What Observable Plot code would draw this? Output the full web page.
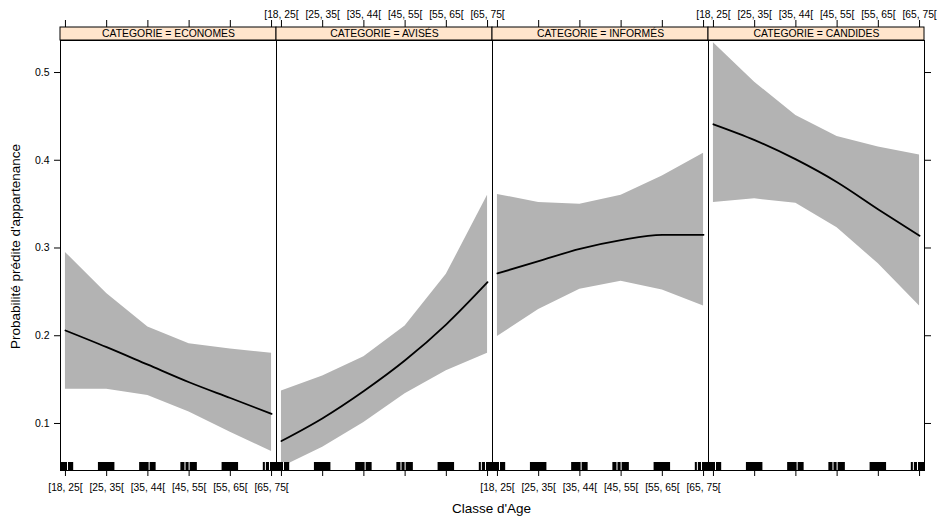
<!DOCTYPE html>
<html>
<head>
<meta charset="utf-8">
<script src="https://cdn.jsdelivr.net/npm/d3@7"></script>
<script src="https://cdn.jsdelivr.net/npm/@observablehq/plot@0.6"></script>
<style>
  html, body { margin: 0; padding: 0; background: white; }
  #chart svg { display: block; }
</style>
</head>
<body>
<div id="chart"></div>
<script>
// ---- data ----
const categories = ["ECONOMES", "AVISÉS", "INFORMÉS", "CANDIDES"];
const ageLabels = ["[18, 25[", "[25, 35[", "[35, 44[", "[45, 55[", "[55, 65[", "[65, 75["];
const yTicks = [0.1, 0.2, 0.3, 0.4, 0.5];

const economesFit   = [0.206, 0.187, 0.167, 0.147, 0.129, 0.111];
const economesLower = [0.139, 0.139, 0.132, 0.113, 0.090, 0.068];
const economesUpper = [0.295, 0.248, 0.210, 0.191, 0.185, 0.180];

const avisesFit   = [0.080, 0.106, 0.137, 0.172, 0.213, 0.261];
const avisesLower = [0.050, 0.073, 0.101, 0.134, 0.160, 0.180];
const avisesUpper = [0.137, 0.154, 0.176, 0.211, 0.270, 0.360];

const informesFit   = [0.271, 0.285, 0.299, 0.309, 0.315, 0.315];
const informesLower = [0.199, 0.230, 0.253, 0.262, 0.252, 0.234];
const informesUpper = [0.361, 0.352, 0.350, 0.360, 0.382, 0.408];

const candidesFit   = [0.441, 0.423, 0.401, 0.375, 0.344, 0.314];
const candidesLower = [0.352, 0.356, 0.351, 0.323, 0.282, 0.234];
const candidesUpper = [0.534, 0.489, 0.451, 0.427, 0.415, 0.406];

// rug: half-width of each jittered group, and white gaps inside groups (level units)
const rugHalfWidth = 0.2;
const rugGaps = [[0.05], [], [0.03], [-0.1, 0.0], [], [-0.15, -0.05]];

// ---- build tables ----
const fits = [economesFit, avisesFit, informesFit, candidesFit];
const lowers = [economesLower, avisesLower, informesLower, candidesLower];
const uppers = [economesUpper, avisesUpper, informesUpper, candidesUpper];
const levels = ageLabels.map((_, j) => j + 1);

const rows = categories.flatMap((cat, i) => levels.map((lv, j) => ({
  cat, level: lv, fit: fits[i][j], lower: lowers[i][j], upper: uppers[i][j]
})));
const rugRows = categories.flatMap(cat => levels.map(lv => ({cat, level: lv})));
const gapRows = categories.flatMap(cat => levels.flatMap((lv, j) => rugGaps[j].map(off => ({cat, level: lv, off}))));
const labelRows = categories.flatMap((cat, i) => levels.map((lv, j) => ({
  cat, level: lv, label: ageLabels[j], side: i % 2 === 0 ? "bottom" : "top"
})));

const font = "'Liberation Sans', Arial, Helvetica, sans-serif";
const panelH = 430;

const chart = Plot.plot({
  width: 941,
  height: 522,
  marginLeft: 58,
  marginRight: 16,
  marginTop: 40,
  marginBottom: 52,
  style: {fontFamily: font, fontSize: "10.4px", background: "white", color: "black"},
  fx: {domain: categories, padding: 0, axis: null, label: null},
  x: {domain: [0.88, 6.12], axis: null},
  y: {domain: [0.0464, 0.5365]},
  marks: [
    Plot.areaY(rows, {fx: "cat", x: "level", y1: "lower", y2: "upper", fill: "#b3b3b3", clip: true}),
    Plot.lineY(rows, {fx: "cat", x: "level", y: "fit", stroke: "black", strokeWidth: 1.8, curve: "monotone-x", clip: true}),
    Plot.rect(rugRows, {fx: "cat", x1: d => d.level - rugHalfWidth, x2: d => d.level + rugHalfWidth, fill: "black", insetTop: panelH - 8, clip: true}),
    Plot.ruleX(gapRows, {fx: "cat", x: d => d.level + d.off, stroke: "white", strokeWidth: 1, insetTop: panelH - 8, clip: true}),
    Plot.frame({stroke: "black"}),
    Plot.rect(categories, {fx: d => d, fill: "#ffe5cc", stroke: "black", insetTop: -13, insetBottom: panelH}),
    Plot.text(categories, {fx: d => d, text: d => `CATEGORIE = ${d}`, frameAnchor: "top", lineAnchor: "middle", dy: -6.5, fontSize: 10.4}),
    Plot.ruleX(levels, {x: d => d, stroke: "black", insetTop: -20, insetBottom: panelH + 13}),
    Plot.ruleX(levels, {x: d => d, stroke: "black", insetTop: panelH, insetBottom: -6}),
    Plot.text(labelRows.filter(d => d.side === "bottom"), {fx: "cat", x: "level", text: "label", frameAnchor: "bottom", lineAnchor: "middle", dy: 17, fontSize: 10.3}),
    Plot.text(labelRows.filter(d => d.side === "top"), {fx: "cat", x: "level", text: "label", frameAnchor: "top", lineAnchor: "middle", dy: -26, fontSize: 10.3}),
    Plot.axisY(yTicks, {anchor: "left", tickSize: 6, tickPadding: 5, tickFormat: d3.format(".1f"), fontSize: 10.5, label: null}),
    Plot.axisY(yTicks, {anchor: "right", tickSize: 6, tickFormat: () => "", label: null})
  ]
});

const svg = d3.select(chart);
svg.append("text")
  .attr("x", 491.5).attr("y", 513)
  .attr("text-anchor", "middle")
  .style("font-family", font).style("font-size", "13.5px").attr("fill", "black")
  .text("Classe d'Age");
svg.append("text")
  .attr("transform", "translate(15,246.5) rotate(-90)")
  .attr("text-anchor", "middle").attr("dominant-baseline", "central")
  .style("font-family", font).style("font-size", "13.5px").attr("fill", "black")
  .text("Probabilité prédite d'appartenance");

document.getElementById("chart").appendChild(chart);
</script>
</body>
</html>
